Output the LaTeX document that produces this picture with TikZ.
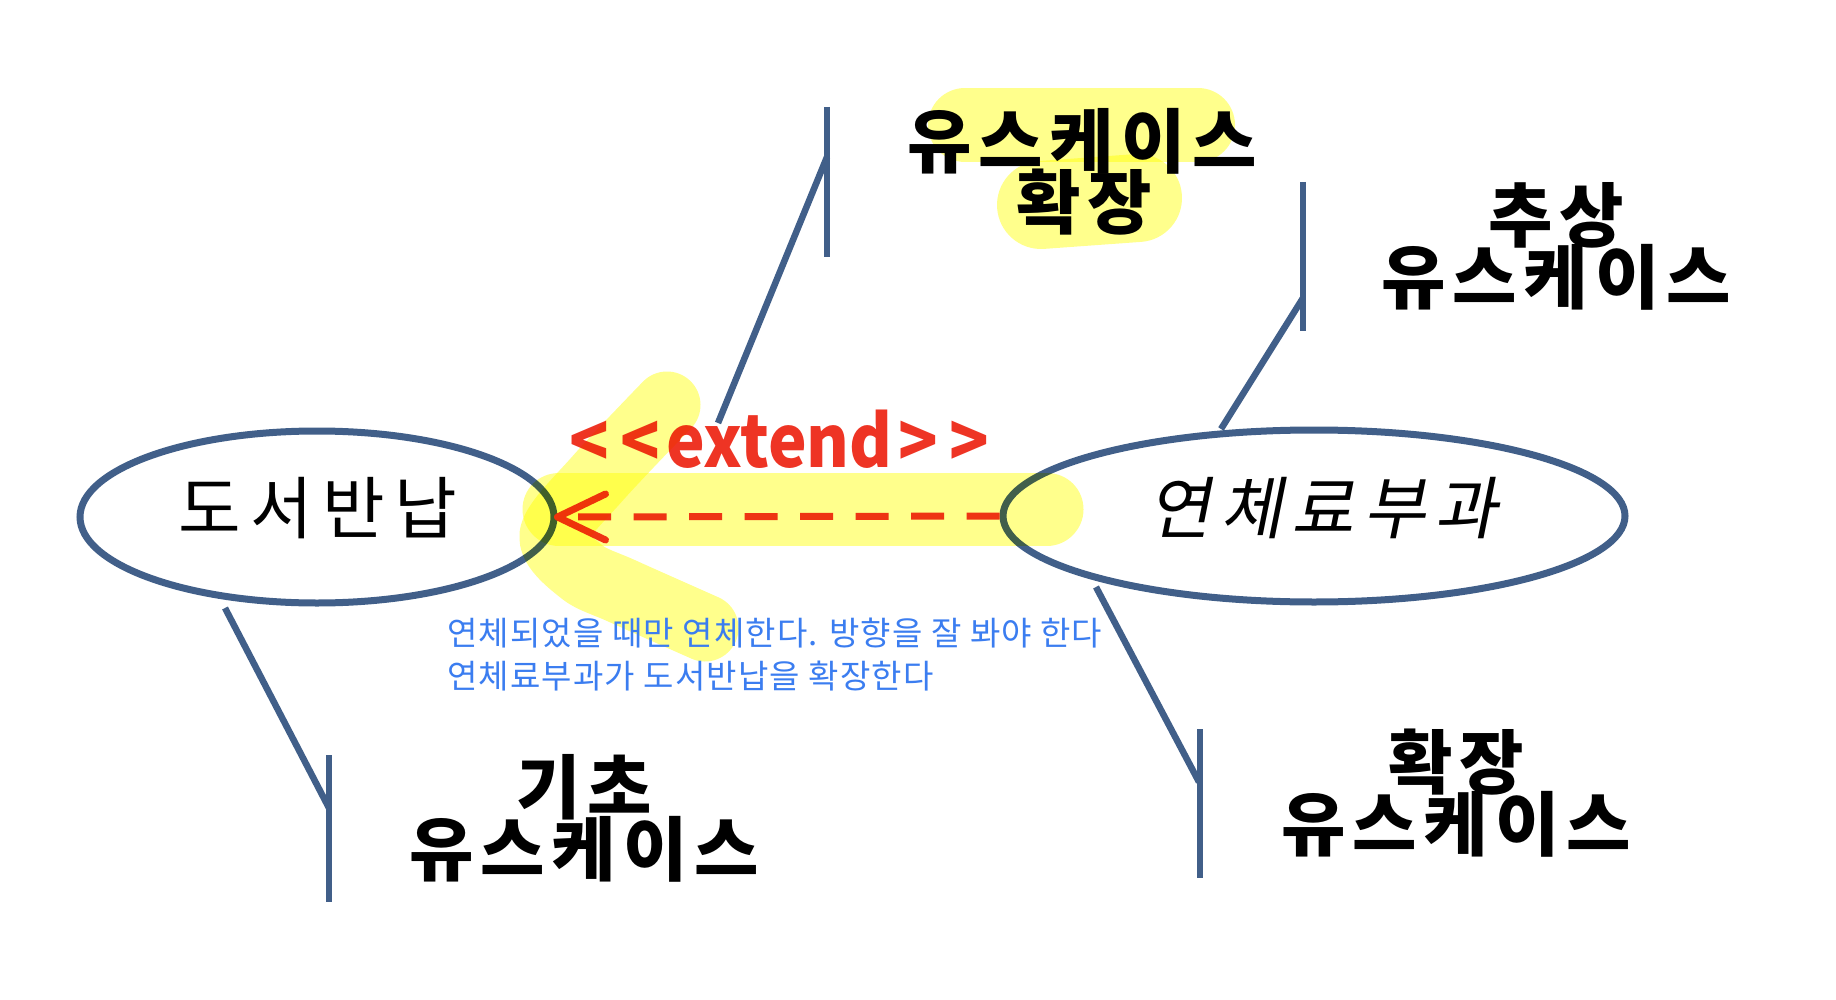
\documentclass[tikz,border=0pt]{standalone}
\usepackage{fontspec}
\usetikzlibrary{shapes.geometric}
\newfontfamily\krfont{Noto Sans CJK KR}
\newfontfamily\krwide[LetterSpace=10]{Noto Sans CJK KR}
\newfontfamily\krell[LetterSpace=14]{Noto Sans CJK KR}
\newfontfamily\kritfont[FakeSlant=0.2,LetterSpace=13]{Noto Sans CJK KR}
\newfontfamily\krnote[LetterSpace=3.5]{Noto Sans CJK KR}
\newfontfamily\krext[FakeStretch=0.905]{Noto Sans CJK KR}
\definecolor{ublue}{RGB}{65,95,137}
\definecolor{ured}{RGB}{238,52,36}
\definecolor{unote}{RGB}{59,125,240}
\definecolor{hilite}{RGB}{255,255,140}
\tikzset{
  usecase/.style={ellipse, draw=ublue, line width=7pt, fill=white, inner sep=0pt},
  bigtxt/.style={inner sep=0pt, anchor=base, font=\krwide\bfseries\fontsize{70}{70}\selectfont},
  uctxt/.style={inner sep=0pt, anchor=base, font=\krell\fontsize{68}{68}\selectfont},
  notetxt/.style={inner sep=0pt, anchor=base west, text=unote, font=\krnote\fontsize{33}{33}\selectfont},
  callout/.style={draw=ublue, line width=6.5pt},
  hl/.style={draw=hilite, line cap=round, line join=round, blend mode=multiply},
  redline/.style={draw=ured, line width=7pt}
}
\begin{document}
\begin{tikzpicture}[x=1pt,y=-1pt]
\useasboundingbox (0,0) rectangle (1836,1000);
% use case ellipses
\node[usecase, minimum width=474pt, minimum height=172pt] (ret) at (317,517) {};
\node[usecase, minimum width=622pt, minimum height=172pt] (fee) at (1314,516) {};
\node[uctxt] (rettxt) at (318,533) {도서반납};
\node[uctxt, font=\kritfont\fontsize{68}{68}\selectfont] (feetxt) at (1323,533) {연체료부과};
% callout lines
\coordinate (tlv1) at (827,107); \coordinate (tlv2) at (827,257);
\coordinate (tld1) at (827,157); \coordinate (tld2) at (718,423);
\coordinate (trv1) at (1303,182); \coordinate (trv2) at (1303,331);
\coordinate (trd1) at (1303,298); \coordinate (trd2) at (1221,429);
\coordinate (blv1) at (329,755); \coordinate (blv2) at (329,902);
\coordinate (bld1) at (225,608); \coordinate (bld2) at (329,808);
\coordinate (brv1) at (1200,729); \coordinate (brv2) at (1200,878);
\coordinate (brd1) at (1096,587); \coordinate (brd2) at (1199,782);
\draw[callout] (tlv1) -- (tlv2);
\draw[callout] (tld1) -- (tld2);
\draw[callout] (trv1) -- (trv2);
\draw[callout] (trd1) -- (trd2);
\draw[callout] (blv1) -- (blv2);
\draw[callout] (bld1) -- (bld2);
\draw[callout] (brv1) -- (brv2);
\draw[callout] (brd1) -- (brd2);
% labels
\node[bigtxt] (t1a) at (1082,168) {유스케이스};
\node[bigtxt] (t1b) at (1084,229) {확장};
\node[bigtxt] (t2a) at (1556,242) {추상};
\node[bigtxt] (t2b) at (1556,303) {유스케이스};
\node[bigtxt] (t3a) at (584,813) {기초};
\node[bigtxt] (t3b) at (584,875) {유스케이스};
\node[bigtxt] (t4a) at (1456,788) {확장};
\node[bigtxt] (t4b) at (1456,850) {유스케이스};
% extend arrow
\coordinate (tip) at (ret.east);
\draw[redline, dash pattern=on 33pt off 22.5pt] (fee.west) -- (tip);
\draw[redline, line cap=round, line join=round] (tip) ++(48,-23) -- (tip) -- ++(48,23);
\node[inner sep=0pt, anchor=base west, text=ured, font=\krext\bfseries\fontsize{72}{72}\selectfont] (ext) at (569,467) {<\hspace{12pt}<\hspace{5.5pt}extend\hspace{5.5pt}>\hspace{12pt}>};
% highlighter strokes
\draw[hl, line width=73pt] (559,509) -- (1047,509);
\draw[hl, line width=67pt] plot[smooth] coordinates {(667,405) (598,478) (553,535) (582,572) (622,591) (705,628)};
\draw[hl, line width=74pt] (965,125) -- (1198,125);
\draw[hl, line width=88pt] (1041,205) -- (1138,198);
% note
\node[notetxt] (n1) at (447,645) {연체되었을 때만 연체한다. 방향을 잘 봐야 한다};
\node[notetxt] (n2) at (447,688) {연체료부과가 도서반납을 확장한다};
\end{tikzpicture}
\end{document}
